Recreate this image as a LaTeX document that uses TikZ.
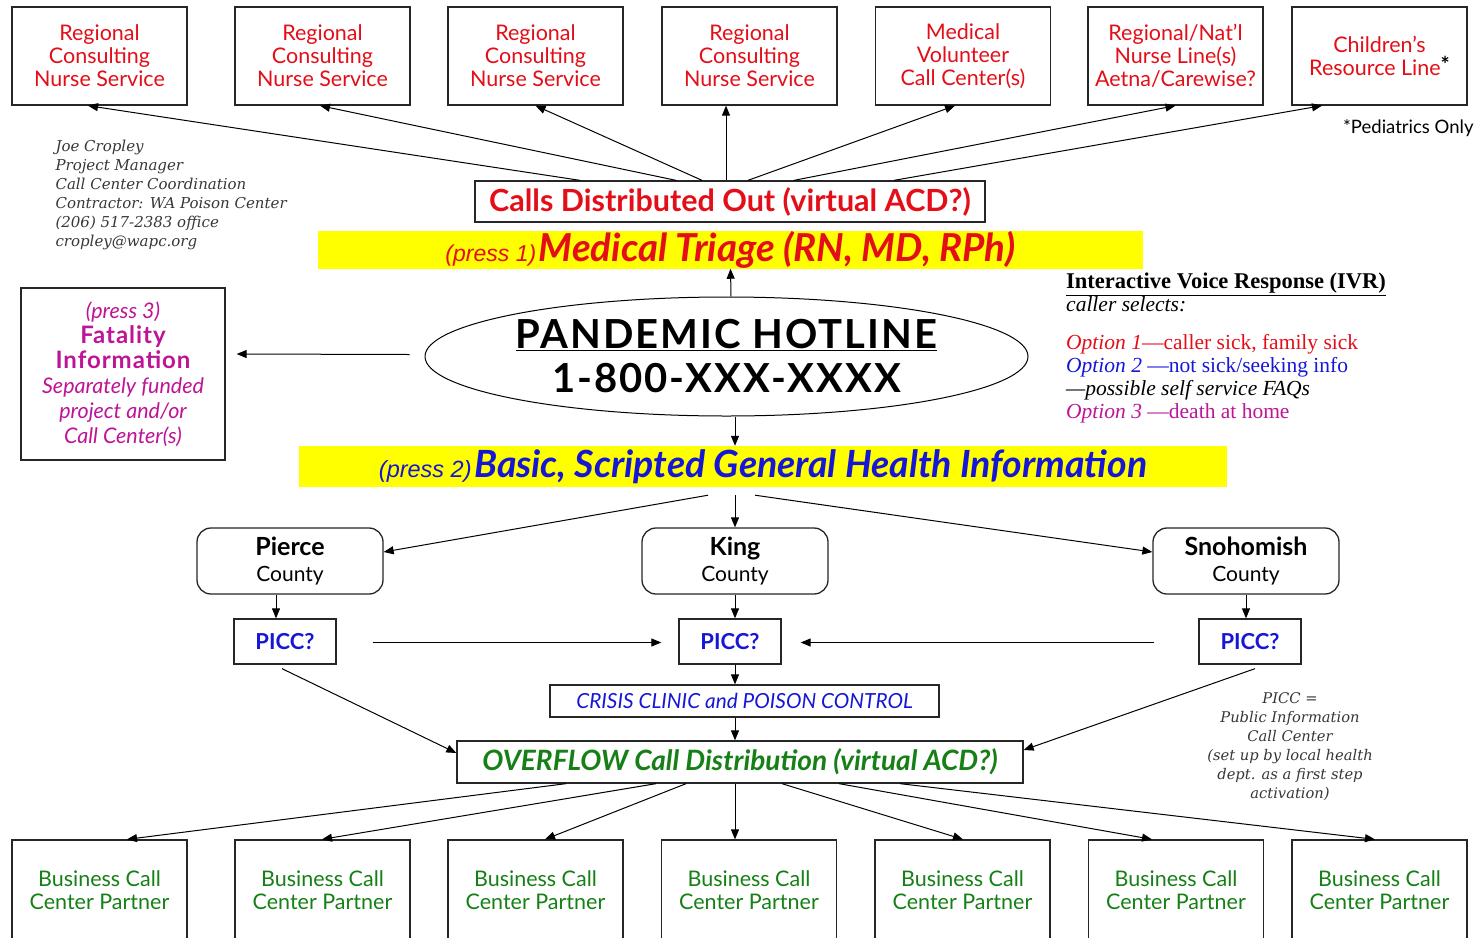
\documentclass[tikz,border=0pt]{standalone}
\usepackage{fontspec}
\setmainfont{Lato}
\newfontfamily\noteserif{DejaVu Serif}
\newfontfamily\ivrfont{Liberation Serif}
\newfontfamily\arialfont{Liberation Sans}
\usetikzlibrary{shapes.geometric,arrows.meta,calc}
\definecolor{cred}{RGB}{228,14,24}
\definecolor{cblue}{RGB}{22,22,215}
\definecolor{cmag}{RGB}{190,20,150}
\definecolor{cgreen}{RGB}{22,128,22}
\definecolor{cyel}{RGB}{255,255,0}
\definecolor{cgray}{RGB}{55,55,55}
\tikzset{
  bx/.style={draw=black!85, line width=1.3pt, fill=white, align=center, inner sep=0pt},
  topbox/.style={bx, minimum width=175pt, minimum height=98pt, text=cred, font=\fontsize{21.5}{23}\selectfont},
  botbox/.style={bx, minimum width=175pt, minimum height=100pt, text=cgreen, font=\fontsize{21.5}{23}\selectfont},
  cty/.style={bx, rounded corners=14pt, minimum width=186pt, minimum height=66pt, font=\fontsize{21}{26}\selectfont},
  picc/.style={bx, minimum width=102pt, minimum height=45pt, text=cblue, font=\fontsize{22}{24}\selectfont\bfseries},
  band/.style={fill=cyel, inner sep=0pt, align=center},
  arr/.style={-{Triangle[length=10pt,width=8pt]}, line width=1pt},
}
\begin{document}
\begin{tikzpicture}[x=1pt,y=-1pt]
\useasboundingbox (0,0) rectangle (1479,937);
% top boxes
\node[topbox] (t1) at (99.5,56) {Regional\\Consulting\\Nurse Service};
\node[topbox] (t2) at (322.5,56) {Regional\\Consulting\\Nurse Service};
\node[topbox] (t3) at (535.5,56) {Regional\\Consulting\\Nurse Service};
\node[topbox] (t4) at (749.5,56) {Regional\\Consulting\\Nurse Service};
\node[topbox] (t5) at (963,56) {Medical\\Volunteer\\Call Center(s)};
\node[topbox] (t6) at (1175.5,56) {Regional/Nat'l\\Nurse Line(s)\\Aetna/Carewise?};
\node[topbox] (t7) at (1379.5,56) {Children's\\Resource Line\raisebox{3pt}{\color{black}\bfseries *}};
\node[font=\fontsize{18.5}{20}\selectfont, anchor=east] (ped) at (1477,128) {*Pediatrics Only};
% calls distributed
\node[bx, minimum width=510pt, minimum height=41pt, text=cred, font=\fontsize{30.5}{32}\selectfont\bfseries] (cd) at (730,201.5) {Calls Distributed Out (virtual ACD?)};
\draw[arr] ($(cd.north)+(-150,0)$) -- ($(t1.south)+(-11.5,0)$);
\draw[arr] ($(cd.north)+(-54,0)$) -- ($(t2.south)+(-2.5,0)$);
\draw[arr] ($(cd.north)+(-28,0)$) -- ($(t3.south)+(0,0)$);
\draw[arr] ($(cd.north)+(-4,0)$) -- ($(t4.south)+(-23.5,0)$);
\draw[arr] ($(cd.north)+(18,0)$) -- ($(t5.south)+(-8,0)$);
\draw[arr] ($(cd.north)+(64,0)$) -- ($(t6.south)+(0,0)$);
\draw[arr] ($(cd.north)+(164,0)$) -- ($(t7.south)+(-57.5,0)$);
% contact text
\node[anchor=north west, align=left, text=cgray, font=\noteserif\itshape\fontsize{15}{19}\selectfont] (joe) at (52,137) {Joe Cropley\\Project Manager\\Call Center Coordination\\Contractor: WA Poison Center\\(206) 517-2383 office\\cropley@wapc.org};
% triage band
\node[band, minimum width=825pt, minimum height=36pt, text=cred] (tri) at (730.5,250) {\raisebox{-3pt}{{\arialfont\itshape\fontsize{23}{24}\selectfont (press 1)} {\bfseries\itshape\fontsize{38.5}{40}\selectfont Medical Triage (RN, MD, RPh)}}};
% hotline
\node[draw, line width=1pt, ellipse, minimum width=603pt, minimum height=119pt, inner sep=0pt, align=center, font=\fontsize{40}{44}\selectfont\bfseries\addfontfeature{LetterSpace=5}] (hot) at (726.5,356.5) {\underline{PANDEMIC HOTLINE}\\1-800-XXX-XXXX};
\draw[arr] ($(hot.north)+(4.5,0)$) -- (tri.south);
% fatality
\node[bx, minimum width=204pt, minimum height=172pt, text=cmag, font=\fontsize{21.5}{25}\selectfont] (fat) at (123,374) {\raisebox{0pt}{\itshape (press 3)}\\{\bfseries\fontsize{24}{25}\selectfont\addfontfeature{LetterSpace=4} Fatality}\\{\bfseries\fontsize{24}{25}\selectfont\addfontfeature{LetterSpace=4} Information}\\\itshape Separately funded\\\itshape project and/or\\\itshape Call Center(s)};
\draw[arr] ($(hot.west)+(-15,-2)$) -- ($(fat.east)+(11,-20)$);
% IVR
\node[anchor=north west, align=left, inner sep=0pt, font=\ivrfont\fontsize{21.5}{23}\selectfont] (ivr) at (1066,273) {{\fontsize{22.5}{23}\selectfont\textbf{\underline{Interactive Voice Response (IVR)}}}\\\textit{caller selects:}\\[15pt]
{\color{cred}\textit{Option 1}—caller sick, family sick}\\
{\color{cblue}\textit{Option 2} —not sick/seeking info}\\
\textit{—possible self service FAQs}\\
{\color{cmag}\textit{Option 3} —death at home}};
% general info band
\node[band, minimum width=928pt, minimum height=41pt, text=cblue] (gen) at (763,466.5) {{\arialfont\itshape\fontsize{23.5}{24}\selectfont (press 2)} {\bfseries\itshape\fontsize{37.5}{40}\selectfont Basic, Scripted General Health Information}};
\draw[arr] ($(hot.south)+(8.5,0)$) -- ($(gen.north)+(-28,0)$);
% counties
\node[cty] (pie) at (290,561) {{\bfseries\fontsize{25}{26}\selectfont Pierce}\\County};
\node[cty] (kin) at (735,561) {{\bfseries\fontsize{25}{26}\selectfont King}\\County};
\node[cty] (sno) at (1246,561) {{\bfseries\fontsize{25}{26}\selectfont Snohomish}\\County};
\draw[arr] ($(gen.south)+(-55,8)$) -- ($(pie.east)+(0,-9)$);
\draw[arr] ($(gen.south)+(-28,8)$) -- (kin.north);
\draw[arr] ($(gen.south)+(-8,8)$) -- ($(sno.west)+(0,-9)$);
% PICC
\node[picc] (p1) at (285,641.5) {PICC?};
\node[picc] (p2) at (730,641.5) {PICC?};
\node[picc] (p3) at (1250,641.5) {PICC?};
\draw[arr] ($(pie.south)+(-14,0)$) -- ($(p1.north)+(-9,0)$);
\draw[arr] (kin.south) -- ($(p2.north)+(5,0)$);
\draw[arr] (sno.south) -- ($(p3.north)+(-4,0)$);
\draw[arr] ($(p1.east)+(36,1)$) -- ($(p2.west)+(-17,1)$);
\draw[arr] ($(p3.west)+(-44,1)$) -- ($(p2.east)+(19,1)$);
% crisis & overflow
\node[bx, minimum width=389pt, minimum height=32pt, text=cblue, font=\fontsize{20.8}{22}\selectfont\itshape] (cri) at (744.5,701) {CRISIS CLINIC and POISON CONTROL};
\node[bx, minimum width=566pt, minimum height=42pt, text=cgreen, font=\fontsize{28}{30}\selectfont\bfseries\itshape] (ovf) at (740,762) {OVERFLOW Call Distribution (virtual ACD?)};
\draw[arr] ($(p2.south)+(5,0)$) -- ($(cri.north)+(-9.5,0)$);
\draw[arr] ($(cri.south)+(-9.5,0)$) -- ($(ovf.north)+(-5,0)$);
\draw[arr] ($(p1.south)+(-3,4)$) -- ($(ovf.west)+(0,-9)$);
\draw[arr] ($(p3.south)+(5,4)$) -- ($(ovf.east)+(0,-12)$);
\node[align=center, text=cgray, font=\noteserif\itshape\fontsize{14.7}{19}\selectfont] (note) at (1290,747) {PICC =\\Public Information\\Call Center\\(set up by local health\\dept. as a first step\\activation)};
% bottom boxes
\node[botbox] (b1) at (99.5,890) {Business Call\\Center Partner};
\node[botbox] (b2) at (322.5,890) {Business Call\\Center Partner};
\node[botbox] (b3) at (535.5,890) {Business Call\\Center Partner};
\node[botbox] (b4) at (749,890) {Business Call\\Center Partner};
\node[botbox] (b5) at (962.5,890) {Business Call\\Center Partner};
\node[botbox] (b6) at (1176,890) {Business Call\\Center Partner};
\node[botbox] (b7) at (1379.5,890) {Business Call\\Center Partner};
\draw[arr] ($(ovf.south)+(-174,0)$) -- ($(b1.north)+(27.5,0)$);
\draw[arr] ($(ovf.south)+(-84,0)$) -- ($(b2.north)+(-0.5,0)$);
\draw[arr] ($(ovf.south)+(-54,0)$) -- ($(b3.north)+(9.5,0)$);
\draw[arr] ($(ovf.south)+(-5,0)$) -- ($(b4.north)+(-14,0)$);
\draw[arr] ($(ovf.south)+(42,0)$) -- ($(b5.north)+(0.5,0)$);
\draw[arr] ($(ovf.south)+(99,0)$) -- ($(b6.north)+(-24,0)$);
\draw[arr] ($(ovf.south)+(160,0)$) -- ($(b7.north)+(-4.5,0)$);
\end{tikzpicture}
\end{document}
